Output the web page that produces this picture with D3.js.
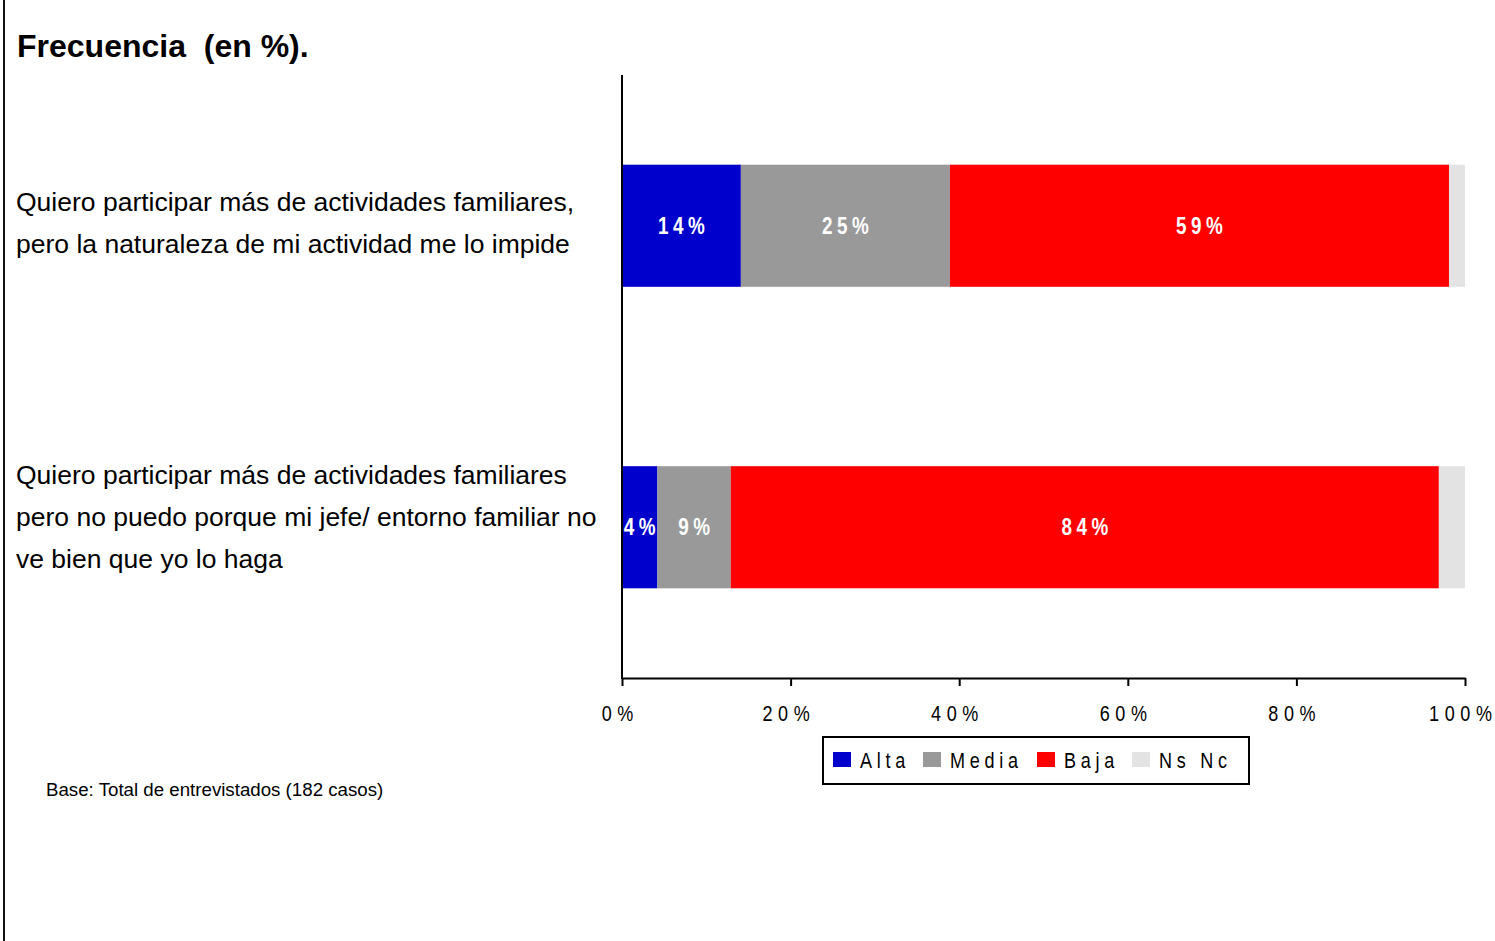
<!DOCTYPE html>
<html>
<head>
<meta charset="utf-8">
<script src="https://d3js.org/d3.v7.min.js"></script>
<style>
  body { margin: 0; background: #fff; }
  svg { display: block; }
  text { font-family: "Liberation Sans", Arial, sans-serif; }
</style>
</head>
<body>
<svg id="chart" width="1495" height="941"></svg>
<script>
// data
var categories = [
  ["Quiero participar más de actividades familiares,", "pero la naturaleza de mi actividad me lo impide"],
  ["Quiero participar más de actividades familiares", "pero no puedo porque mi jefe/ entorno familiar no", "ve bien que yo lo haga"]
];
var series = ["Alta", "Media", "Baja", "Ns Nc"];
var colors = ["#0000CC", "#999999", "#FF0000", "#E3E3E3"];
var alta  = [14.1, 4.2];
var media = [24.8, 8.7];
var baja  = [59.2, 84.0];
var nsnc  = [1.9, 3.1];
var tickValues = [0, 20, 40, 60, 80, 100];

var svg = d3.select("#chart");

var rows = categories.map(function(c, i) {
  return { idx: i, lines: c, vals: [alta[i], media[i], baja[i], nsnc[i]] };
});

var x = d3.scaleLinear().domain([0, 100]).range([622, 1465]);
var y = d3.scaleBand().domain(d3.range(categories.length)).range([75, 678])
    .paddingInner(0.595).paddingOuter(0.2975);

// narrow text: arial squeezed horizontally (no narrow font installed)
// last character gets no trailing letter-spacing
function narrow(parent, px, py, anchor, str, size, spacing) {
  var g = parent.append("g")
    .attr("transform", "translate(" + px + "," + py + ") scale(0.82,1)");
  var t = g.append("text").attr("text-anchor", anchor)
    .style("font-size", size + "px");
  t.append("tspan").style("letter-spacing", spacing + "px").text(str.slice(0, -1));
  t.append("tspan").style("letter-spacing", "0px").text(str.slice(-1));
  return t;
}

// left border line
svg.append("line").attr("x1", 4).attr("x2", 4).attr("y1", 0).attr("y2", 941)
  .attr("stroke", "#111").attr("stroke-width", 2);

// title
svg.append("text").attr("x", 17).attr("y", 57)
  .style("font-weight", "bold").style("font-size", "32px")
  .attr("xml:space", "preserve")
  .text("Frecuencia  (en %).");

// clip for plot area
svg.append("clipPath").attr("id", "plotclip")
  .append("rect").attr("x", 622).attr("y", 70).attr("width", 860).attr("height", 610);

var plot = svg.append("g").attr("clip-path", "url(#plotclip)");

rows.forEach(function(r) {
  var acc = 0;
  r.vals.forEach(function(v, k) {
    var x0 = acc; acc += v;
    plot.append("rect")
      .attr("x", x(x0)).attr("width", x(acc) - x(x0))
      .attr("y", y(r.idx)).attr("height", y.bandwidth())
      .attr("fill", colors[k]);
    if (k < 3) {
      narrow(plot, x(x0 + v / 2), y(r.idx) + y.bandwidth() / 2 + 8, "middle",
             Math.round(v) + "%", 23, 5.5)
        .style("font-weight", "bold").attr("fill", "#fff");
    }
  });
});

// category labels
rows.forEach(function(r) {
  var n = r.lines.length;
  var cy = y(r.idx) + y.bandwidth() / 2 - (n - 1) * (n - 1) * 2.5;
  var t = svg.append("text").attr("x", 16)
    .style("font-size", "26.5px").attr("fill", "#000");
  r.lines.forEach(function(line, j) {
    t.append("tspan").attr("x", 16)
      .attr("y", cy + (j - (n - 1) / 2) * 42 + 9)
      .text(line);
  });
});

// axes
svg.append("line").attr("x1", 622).attr("x2", 622).attr("y1", 75).attr("y2", 679)
  .attr("stroke", "#000").attr("stroke-width", 2);

var xAxis = svg.append("g").attr("transform", "translate(0,678)")
  .call(d3.axisBottom(x).tickValues(tickValues).tickSize(8).tickSizeOuter(0)
    .tickFormat(""));
xAxis.select(".domain").attr("stroke", "#000").attr("stroke-width", 2);
xAxis.selectAll(".tick line").attr("stroke", "#000").attr("stroke-width", 2);
xAxis.selectAll(".tick").each(function(d) {
  narrow(d3.select(this), -5, 43, "middle", d + "%", 22, 6.8).attr("fill", "#000");
});

// legend
var lg = svg.append("g");
lg.append("rect").attr("x", 823).attr("y", 737).attr("width", 426).attr("height", 47)
  .attr("fill", "#fff").attr("stroke", "#000").attr("stroke-width", 2);
var legX = [833, 923, 1037, 1132];
series.forEach(function(s, k) {
  lg.append("rect").attr("x", legX[k]).attr("y", 752).attr("width", 18).attr("height", 15)
    .attr("fill", colors[k]);
  narrow(lg, legX[k] + 27, 768, "start", s, 22, 5.8).attr("fill", "#000");
});

// footnote
svg.append("text").attr("x", 46).attr("y", 796)
  .style("font-size", "18.7px").text("Base: Total de entrevistados (182 casos)");
</script>
</body>
</html>
